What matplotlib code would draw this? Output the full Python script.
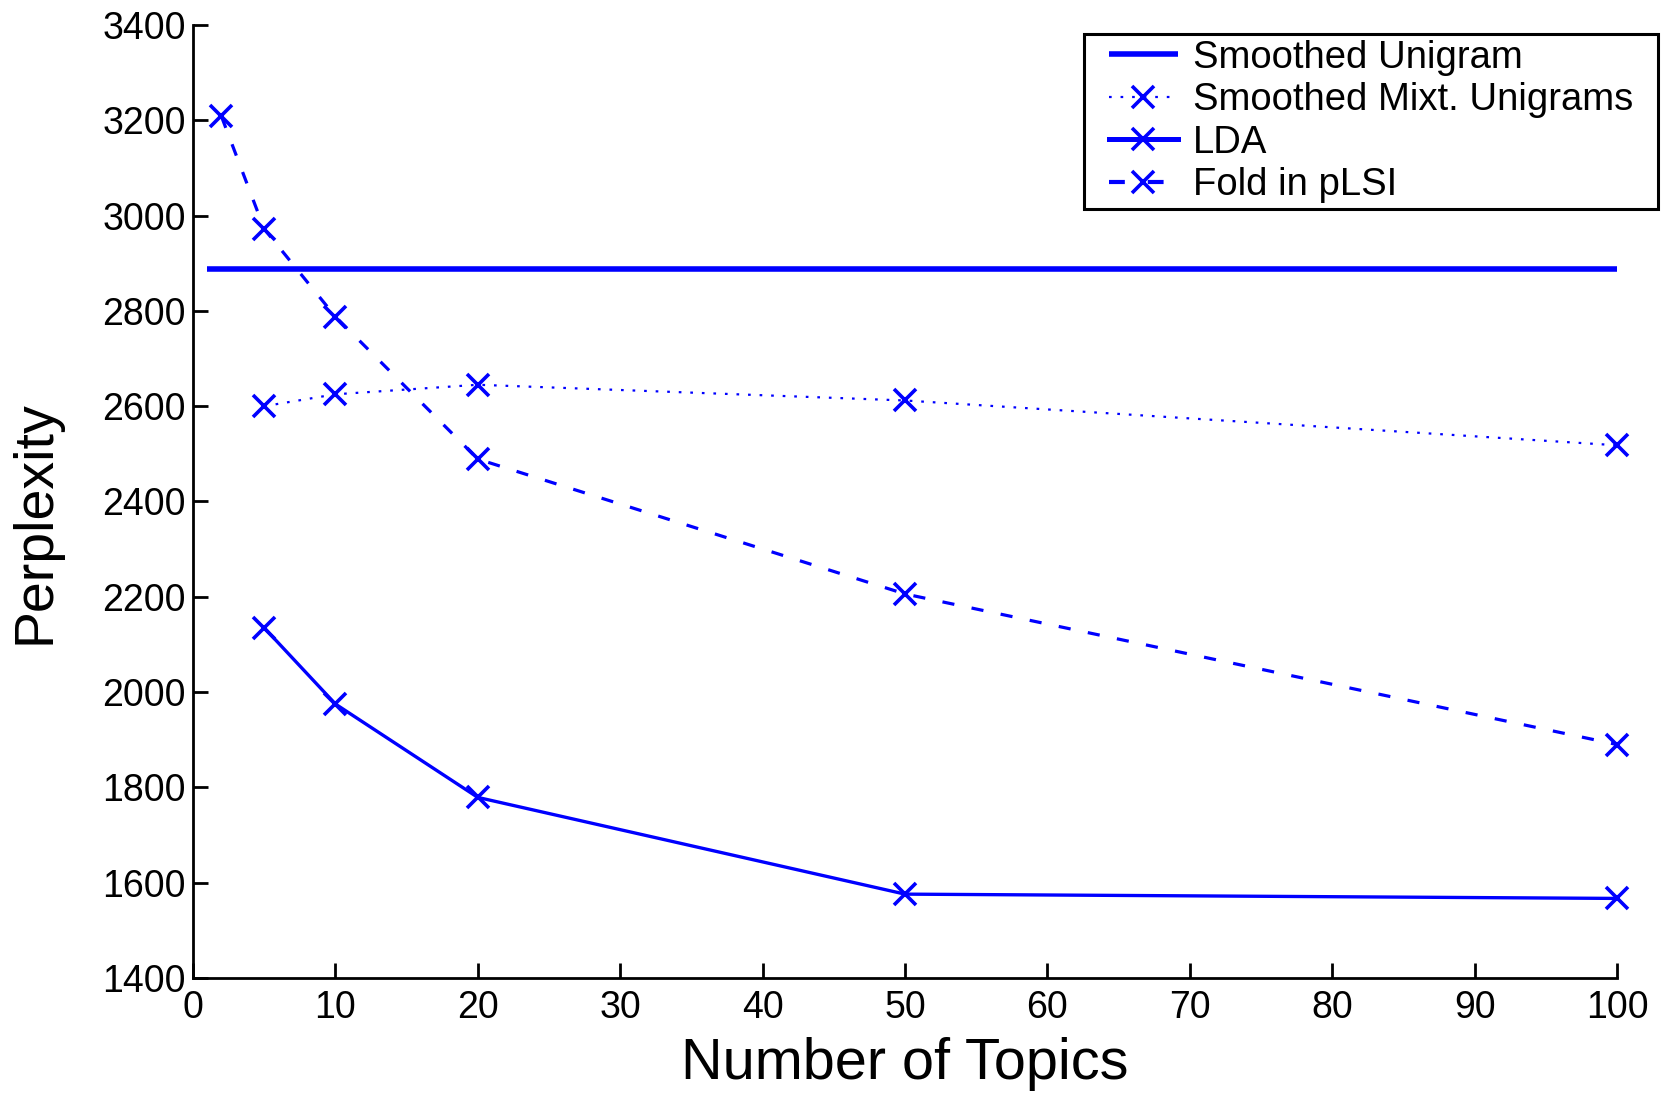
import matplotlib
matplotlib.use("Agg")
import matplotlib.pyplot as plt
from matplotlib.legend_handler import HandlerLine2D

plt.rcParams['font.family'] = ['Liberation Sans', 'DejaVu Sans']

# ---- data ----
unigram_x = [1, 100]
unigram_y = [2888, 2888]

mixt_x = [5, 10, 20, 50, 100]
mixt_y = [2600, 2625, 2645, 2612, 2518]

lda_x = [5, 10, 20, 50, 100]
lda_y = [2135, 1975, 1779, 1576, 1567]

plsi_x = [2, 5, 10, 20, 50, 100]
plsi_y = [3208, 2972, 2788, 2489, 2206, 1890]

xticks = [0, 10, 20, 30, 40, 50, 60, 70, 80, 90, 100]
yticks = [1400, 1600, 1800, 2000, 2200, 2400, 2600, 2800, 3000, 3200, 3400]

labels = ["Smoothed Unigram", "Smoothed Mixt. Unigrams", "LDA", "Fold in pLSI"]

W, H = 1663, 1096
fig = plt.figure(figsize=(W / 100, H / 100), dpi=100)
ax = fig.add_axes([193 / W, 1 - 978 / H, (1617 - 193) / W, (978 - 25) / H])

blue = (0, 0, 1)
ms = 16
mew = 2.6

l1, = ax.plot(unigram_x, unigram_y, color=blue, lw=4.0, solid_capstyle='butt')
l2, = ax.plot(mixt_x, mixt_y, color=blue, lw=1.6, linestyle=(0, (1.2, 4.0)),
              marker='x', ms=ms, mew=mew, clip_on=False)
l3, = ax.plot(lda_x, lda_y, color=blue, lw=2.4, marker='x', ms=ms, mew=mew,
              clip_on=False)
l4, = ax.plot(plsi_x, plsi_y, color=blue, lw=2.3, linestyle=(0, (3.8, 5.5)),
              marker='x', ms=ms, mew=mew, clip_on=False)

ax.set_xlim(0, 100)
ax.set_ylim(1400, 3400)
ax.set_xticks(xticks)
ax.set_yticks(yticks)
ax.set_xticklabels([str(v) for v in xticks])
ax.set_yticklabels([str(v) for v in yticks])

for s in ['top', 'right']:
    ax.spines[s].set_visible(False)
for s in ['left', 'bottom']:
    ax.spines[s].set_linewidth(2.0)
    ax.spines[s].set_color('black')

ax.tick_params(direction='in', length=11, width=2.0, labelsize=27, colors='black')
ax.tick_params(axis='y', pad=5)
ax.tick_params(axis='x', pad=9)

ax.set_xlabel("Number of Topics", fontsize=41.5)
ax.set_ylabel("Perplexity", fontsize=40)
ax.xaxis.set_label_coords(0.5, -0.062)
ax.yaxis.set_label_coords(-0.092, 0.478)


def thicker(legend_handle, orig_handle):
    legend_handle.update_from(orig_handle)
    if orig_handle is l3:
        legend_handle.set_linewidth(3.6)
    elif orig_handle is l4:
        legend_handle.set_linewidth(3.0)


handler = HandlerLine2D(xpad=0.5, update_func=thicker)
leg = fig.legend([l1, l2, l3, l4], labels,
                 loc='upper left',
                 bbox_to_anchor=(1084 / W, 1 - 211 / H, (1658 - 1084) / W, (211 - 34) / H),
                 mode='expand', borderaxespad=0, borderpad=0.15,
                 labelspacing=0.17, handlelength=2.3, handletextpad=0.4,
                 fontsize=27.5, frameon=True, fancybox=False, numpoints=1,
                 handler_map={l1: handler, l2: handler, l3: handler, l4: handler})
fr = leg.get_frame()
fr.set_edgecolor('black')
fr.set_linewidth(2.2)
fr.set_facecolor('white')
fr.set_alpha(1)

fig.savefig("out.png", dpi=100, facecolor='white')
